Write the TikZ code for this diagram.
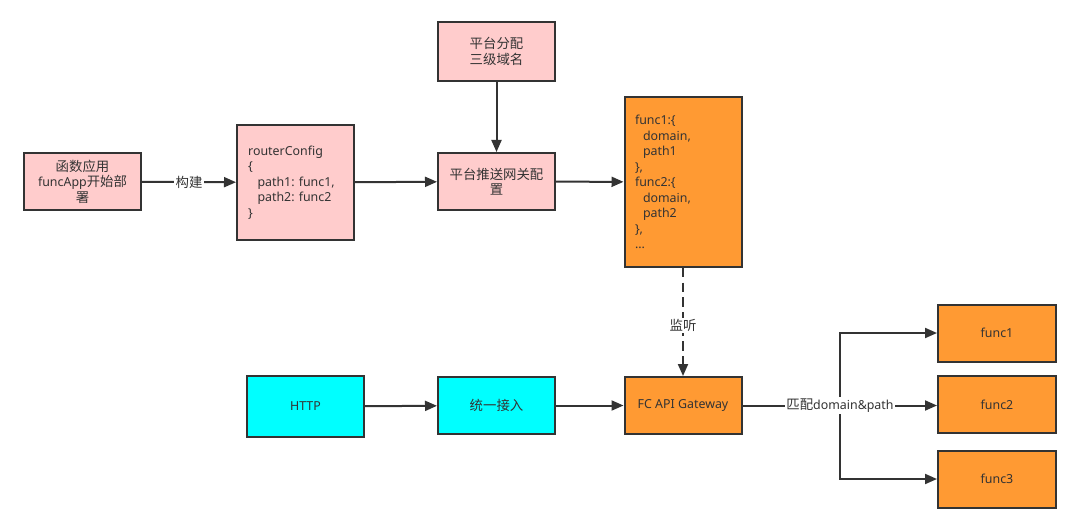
\documentclass[tikz,border=0pt]{standalone}
\usepackage{fontspec}
\setmainfont{Noto Sans}
\newfontfamily\cjk[Scale=1.08]{Noto Sans CJK SC}
\usetikzlibrary{arrows.meta}
\frenchspacing
\definecolor{pinkf}{HTML}{FFCCCC}
\definecolor{orangef}{HTML}{FF9A33}
\definecolor{cyanf}{HTML}{00FFFF}
\definecolor{linec}{HTML}{333333}
\definecolor{textc}{HTML}{333333}
\tikzset{
  box/.style={draw=linec, line width=1.5pt, minimum width=87.75pt, minimum height=42.75pt, inner sep=2pt, align=center, text=textc, font=\fontsize{9.3}{11.6}\selectfont\frenchspacing},
  pinkbox/.style={box, fill=pinkf},
  orangebox/.style={box, fill=orangef},
  cyanbox/.style={box, fill=cyanf},
  edge/.style={draw=linec, line width=1.5pt, -{Triangle[length=9pt,width=7.5pt]}},
  elabel/.style={fill=white, inner sep=1pt, text=textc, font=\fontsize{9.3}{11}\selectfont}
}
\begin{document}
\begin{tikzpicture}[x=0.75pt,y=-0.75pt]
\useasboundingbox (0,0) rectangle (1080,531);
\node[pinkbox] (a) at (82.5,181.5) {{\cjk 函数应用}\\funcApp{\cjk 开始部}\\{\cjk 署}};
\node[pinkbox, minimum height=86.25pt, text width=71pt, align=left] (rc) at (295.5,182.5) {routerConfig\\\{\\\hspace*{7pt}path1: func1,\\\hspace*{7pt}path2: func2\\\}};
\node[pinkbox, minimum height=44.25pt] (top) at (496.5,51.5) {{\cjk 平台分配}\\{\cjk 三级域名}};
\node[pinkbox] (push) at (496.5,181.5) {{\cjk 平台推送网关配}\\{\cjk 置}};
\node[orangebox, minimum height=127.5pt, text width=72pt, align=left] (cfg) at (683,182) {func1:\{\\\hspace*{6pt}domain,\\\hspace*{6pt}path1\\\},\\func2:\{\\\hspace*{6pt}domain,\\\hspace*{6pt}path2\\\},\\...};
\node[cyanbox, minimum height=45.75pt] (http) at (305.5,406.5) {HTTP};
\node[cyanbox] (uni) at (496.5,405.5) {{\cjk 统一接入}};
\node[orangebox] (gw) at (683,405.5) {FC API Gateway};
\node[orangebox, minimum width=88.5pt] (f1) at (997,333) {func1};
\node[orangebox, minimum width=88.5pt] (f2) at (997,404.5) {func2};
\node[orangebox, minimum width=88.5pt] (f3) at (997,479) {func3};
\coordinate (br) at (840,405.5);

\draw[edge] (a) -- node[elabel] {\cjk 构建} (rc);
\draw[edge] (rc) -- (push);
\draw[edge] (top) -- (push);
\draw[edge] (push) -- (cfg);
\draw[edge, dashed, dash pattern=on 7pt off 4pt] (cfg) -- node[elabel, pos=0.53] {\cjk 监听} (gw);
\draw[edge] (http) -- (uni);
\draw[edge] (uni) -- (gw);
\draw[draw=linec, line width=1.5pt] (gw.east) -- (br);
\draw[edge] (br) |- (f1.west);
\draw[edge] (br) |- (f3.west);
\draw[edge] (br) -- (f2.west |- br);
\node[elabel] (ml) at (br) {{\cjk 匹配}domain\&path};
\end{tikzpicture}
\end{document}
